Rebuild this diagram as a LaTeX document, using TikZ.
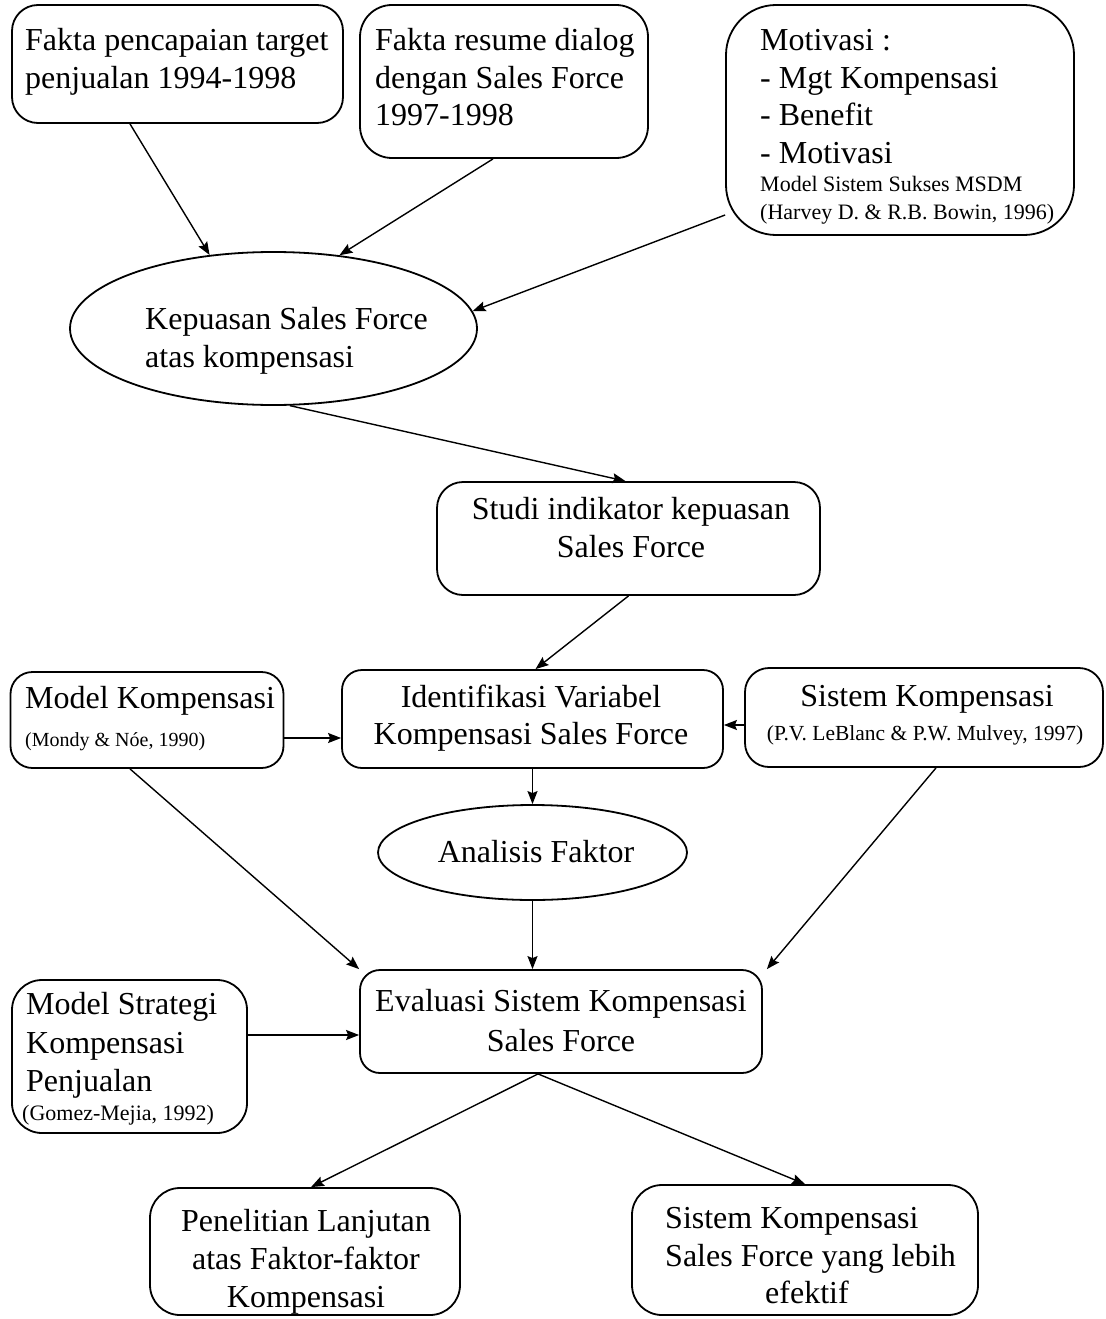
\documentclass[tikz,border=0pt]{standalone}
\usepackage{fontspec}
\setmainfont{Liberation Serif}
\usetikzlibrary{arrows.meta,shapes.geometric}

\begin{document}
\begin{tikzpicture}[x=1pt,y=-1pt,
  box/.style={draw, line width=1.8pt, rounded corners=26pt, inner sep=0pt},
  oval/.style={draw, ellipse, line width=1.8pt, inner sep=0pt},
  txt/.style={inner sep=0pt, font=\fontsize{32}{37.5}\selectfont},
  note/.style={inner sep=0pt, font=\fontsize{22}{25}\selectfont},
  arr/.style={line width=1.4pt, -{Stealth[length=13pt,width=10pt,inset=2pt]}},
]
\fill[white] (0,0) rectangle (1105,1319);
\useasboundingbox (0,0) rectangle (1105,1319);

% ---------- shapes ----------
\node[box, minimum width=331pt, minimum height=118pt] (A) at (177.5,64) {};
\node[box, minimum width=288pt, minimum height=153pt, rounded corners=32pt] (B) at (504,81.5) {};
\node[box, minimum width=348pt, minimum height=230pt, rounded corners=50pt] (C) at (900,120) {};
\node[oval, minimum width=407pt, minimum height=153pt] (D) at (273.5,328.5) {};
\node[box, minimum width=383pt, minimum height=113pt] (E) at (628.5,538.5) {};
\node[box, minimum width=381pt, minimum height=98pt, rounded corners=20pt] (F) at (532.5,719) {};
\node[box, minimum width=273pt, minimum height=96pt, rounded corners=22pt] (G) at (147,720) {};
\node[box, minimum width=358pt, minimum height=99pt, rounded corners=24pt] (H) at (924,717.5) {};
\node[oval, minimum width=309pt, minimum height=95pt] (I) at (532.5,852.5) {};
\node[box, minimum width=402pt, minimum height=103pt, rounded corners=20pt] (J) at (561,1021.5) {};
\node[box, minimum width=235pt, minimum height=153pt, rounded corners=30pt] (K) at (129.5,1056.5) {};
\node[box, minimum width=310pt, minimum height=127pt, rounded corners=30pt] (L) at (305,1251.5) {};
\node[box, minimum width=346pt, minimum height=130pt, rounded corners=30pt] (M) at (805,1250) {};

% ---------- texts ----------
\node[txt, align=left, anchor=north west] (tA) at (25,28.5)
  {Fakta pencapaian target\\penjualan 1994-1998};
\node[txt, align=left, anchor=north west] (tB) at (375,28.5)
  {Fakta resume dialog\\dengan Sales Force\\1997-1998};
\node[txt, align=left, anchor=north west] (tC) at (760,29.5)
  {Motivasi :\\- Mgt Kompensasi\\- Benefit\\- Motivasi};
\node[note, align=left, anchor=north west, font=\fontsize{22}{28}\selectfont] (nC) at (760,176)
  {Model Sistem Sukses MSDM\\(Harvey D. \& R.B. Bowin, 1996)};
\node[txt, align=left, anchor=north west, font=\fontsize{32}{38}\selectfont] (tD) at (145,307.5)
  {Kepuasan Sales Force\\atas kompensasi};
\node[txt, align=center, anchor=north] (tE) at (631,497.5)
  {Studi indikator kepuasan\\Sales Force};
\node[txt, align=center, anchor=north] (tF) at (531,684.5)
  {Identifikasi Variabel\\Kompensasi Sales Force};
\node[txt, anchor=north west] (tG) at (25,686) {Model Kompensasi};
\node[note, anchor=north west, font=\fontsize{20}{24}\selectfont] (nG) at (25,732)
  {(Mondy \& Nóe, 1990)};
\node[txt, anchor=north] (tH) at (927,685.5) {Sistem Kompensasi};
\node[note, anchor=north, font=\fontsize{21.5}{25}\selectfont] (nH) at (925,725)
  {(P.V. LeBlanc \& P.W. Mulvey, 1997)};
\node[txt] (tI) at (536,852) {Analisis Faktor};
\node[txt, align=center, anchor=north, font=\fontsize{32}{40}\selectfont] (tJ) at (561,989.5)
  {Evaluasi Sistem Kompensasi\\Sales Force};
\node[txt, align=left, anchor=north west, font=\fontsize{32}{38.5}\selectfont] (tK) at (26,992.5)
  {Model Strategi\\Kompensasi\\Penjualan};
\node[note, anchor=north west] (nK) at (22,1105) {(Gomez-Mejia, 1992)};
\node[txt, align=center, anchor=north, font=\fontsize{32}{38}\selectfont] (tL) at (306,1209.5)
  {Penelitian Lanjutan\\atas Faktor-faktor\\Kompensasi};
\node[txt, align=left, anchor=north west] (tM) at (665,1207.5)
  {Sistem Kompensasi\\Sales Force yang lebih\\\hspace*{100pt}efektif};

% ---------- connectors ----------
\draw[arr] ([xshift=-47.5pt]A.south) -- (D.131);
\draw[arr] ([xshift=-11pt]B.south) -- (D.48);
\draw[arr] ([yshift=-95pt]C.west) -- (D.5);
\draw[arr] (D.-78) -- ([xshift=-3pt]E.north);
\draw[arr] (E.south) -- ([xshift=3pt]F.north);
\draw[arr] ([yshift=-18pt]G.east) -- ([yshift=-18pt]G.east -| F.west);
\draw[arr] ([yshift=-7.5pt]H.west) -- ([yshift=-7.5pt]H.west -| F.east);
\draw[arr] (F.south) -- (I.north);
\draw[arr] (I.south) -- (I.south |- J.north);
\draw[arr] ([xshift=-17pt]G.south) -- (J.north west);
\draw[arr] ([xshift=12pt]H.south) -- ([xshift=4pt]J.north east);
\draw[arr] ([yshift=21.5pt]K.east) -- ([yshift=21.5pt]K.east -| J.west);
\draw[arr] ([xshift=-23pt]J.south) -- ([xshift=6pt]L.north);
\draw[arr] ([xshift=-23pt]J.south) -- (M.north);
\end{tikzpicture}
\end{document}
